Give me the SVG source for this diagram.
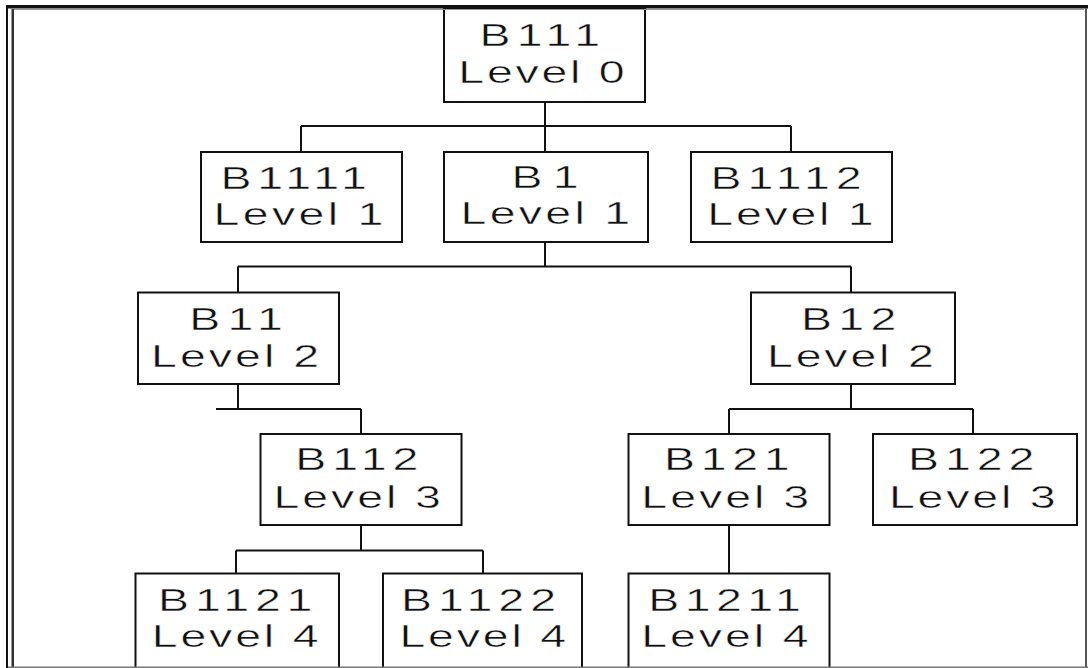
<svg xmlns="http://www.w3.org/2000/svg" width="1088" height="668" viewBox="0 0 1088 668">
<style>
.box{fill:#fff;stroke:#111;stroke-width:2}
.t{font-family:"Liberation Sans",Arial,sans-serif;font-size:31px;fill:#111;stroke:#fff;stroke-width:0.45}
.c{fill:none;stroke:#111;stroke-width:2}
</style>
<rect width="1088" height="668" fill="#fff"/>
<g id="connectors" class="c">
<path d="M545 102V126M301 126H791M301 126V152M545 126V152M791 126V152"/>
<path d="M545 242V266.5M238 266.5H851M238 266.5V292.5M851 266.5V292.5"/>
<path d="M238 384V409M216 409H361M361 409V434"/>
<path d="M851 384V409M729 409H973M729 409V434M973 409V434"/>
<path d="M361 525V550.5M236 550.5H483M236 550.5V573.5M483 550.5V573.5"/>
<path d="M729 525V573.5"/>
</g>
<g id="B111"><rect class="box" x="444" y="8" width="201" height="94"/>
<text class="t" transform="translate(479.6 46.3) scale(1.5 1)" letter-spacing="4.17">B111</text>
<text class="t" transform="translate(458.3 83) scale(1.5 1)" letter-spacing="1.83">Level 0</text></g>
<g id="B1111"><rect class="box" x="201" y="152" width="201" height="90"/>
<text class="t" transform="translate(220.6 188.8) scale(1.5 1)" letter-spacing="3.72">B1111</text>
<text class="t" transform="translate(213.6 224.8) scale(1.5 1)" letter-spacing="2.22">Level 1</text></g>
<g id="B1"><rect class="box" x="444" y="152" width="204" height="90"/>
<text class="t" transform="translate(511.6 188.3) scale(1.5 1)" letter-spacing="6.7">B1</text>
<text class="t" transform="translate(460.6 224.3) scale(1.5 1)" letter-spacing="2.18">Level 1</text></g>
<g id="B1112"><rect class="box" x="691" y="152" width="201" height="90"/>
<text class="t" transform="translate(710.6 188.8) scale(1.5 1)" letter-spacing="3.9">B1112</text>
<text class="t" transform="translate(707.3 224.8) scale(1.5 1)" letter-spacing="1.83">Level 1</text></g>
<g id="B11"><rect class="box" x="138" y="292.5" width="201" height="91.5"/>
<text class="t" transform="translate(189.3 330.3) scale(1.5 1)" letter-spacing="4.75">B11</text>
<text class="t" transform="translate(151.1 367) scale(1.5 1)" letter-spacing="2">Level 2</text></g>
<g id="B12"><rect class="box" x="751" y="292.5" width="204" height="91.5"/>
<text class="t" transform="translate(801 330.3) scale(1.5 1)" letter-spacing="4.2">B12</text>
<text class="t" transform="translate(767 367) scale(1.5 1)" letter-spacing="1.88">Level 2</text></g>
<g id="B112"><rect class="box" x="260.5" y="434" width="201" height="91"/>
<text class="t" transform="translate(295.2 469.6) scale(1.5 1)" letter-spacing="4.03">B112</text>
<text class="t" transform="translate(273.6 507.6) scale(1.5 1)" letter-spacing="1.93">Level 3</text></g>
<g id="B121"><rect class="box" x="628.5" y="434" width="201" height="91"/>
<text class="t" transform="translate(663.9 469.6) scale(1.5 1)" letter-spacing="3.83">B121</text>
<text class="t" transform="translate(641.3 507.6) scale(1.5 1)" letter-spacing="2">Level 3</text></g>
<g id="B122"><rect class="box" x="873" y="434" width="204" height="91"/>
<text class="t" transform="translate(908 469.6) scale(1.5 1)" letter-spacing="3.97">B122</text>
<text class="t" transform="translate(888.9 507.6) scale(1.5 1)" letter-spacing="1.88">Level 3</text></g>
<g id="B1121"><rect class="box" x="135.5" y="573.5" width="203.5" height="100"/>
<text class="t" transform="translate(158.1 611) scale(1.5 1)" letter-spacing="3.9">B1121</text>
<text class="t" transform="translate(151.8 647) scale(1.5 1)" letter-spacing="1.87">Level 4</text></g>
<g id="B1122"><rect class="box" x="383" y="573.5" width="199" height="100"/>
<text class="t" transform="translate(401.1 611) scale(1.5 1)" letter-spacing="4">B1122</text>
<text class="t" transform="translate(399.4 647) scale(1.5 1)" letter-spacing="1.87">Level 4</text></g>
<g id="B1211"><rect class="box" x="628.5" y="573.5" width="201" height="100"/>
<text class="t" transform="translate(648.2 611) scale(1.5 1)" letter-spacing="3.62">B1211</text>
<text class="t" transform="translate(641.3 647) scale(1.5 1)" letter-spacing="1.93">Level 4</text></g>
<g id="frame">
<rect x="6" y="5" width="1082" height="3.5" fill="#111"/>
<rect x="6" y="5" width="2" height="663" fill="#111"/>
<rect x="11" y="9" width="1" height="659" fill="#999"/>
<rect x="12" y="9" width="2" height="659" fill="#333"/>
<rect x="14" y="9" width="1070" height="1" fill="#999"/>
<rect x="1085" y="8" width="2" height="660" fill="#555"/>
<rect x="8" y="666.5" width="1080" height="1.5" fill="#777"/>
</g>
</svg>
